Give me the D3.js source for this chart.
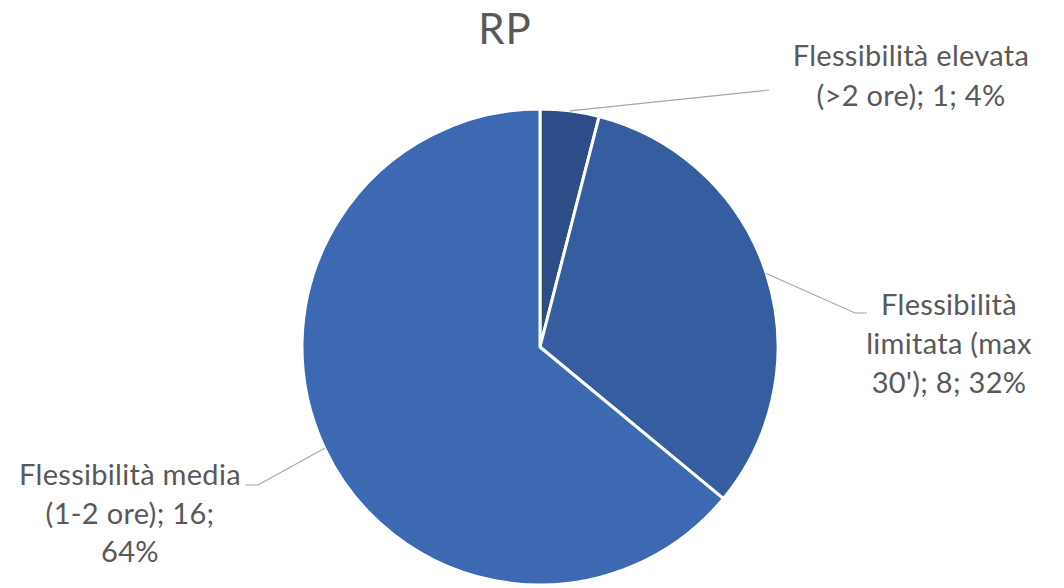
<!DOCTYPE html>
<html><head><meta charset="utf-8">
<script src="https://cdn.jsdelivr.net/npm/d3@7"></script>
<style>body{margin:0;background:#fff;}svg{display:block;}</style>
</head><body>
<script>
const categories = ["Flessibilità elevata (>2 ore)", "Flessibilità limitata (max 30')", "Flessibilità media (1-2 ore)"];
const values = [1, 8, 16];
const percents = ["4%", "32%", "64%"];
const colors = ["#2E4D88", "#365DA0", "#3D69B3"];
const labelLines = [
  ["Flessibilità elevata", "(>2 ore); 1; 4%"],
  ["Flessibilità", "limitata (max", "30'); 8; 32%"],
  ["Flessibilità media", "(1-2 ore); 16;", "64%"]
];
const title = "RP";

const W = 1064, H = 588;
const cx = 540, cy = 347, R = 238;
const svg = d3.select("body").append("svg").attr("width", W).attr("height", H);
const font = "Lato, 'Noto Sans', sans-serif";

svg.append("text").attr("x", 505).attr("y", 44).attr("text-anchor", "middle")
  .attr("font-family", font).attr("font-size", 42).attr("letter-spacing", 1).attr("fill", "#595959").text(title);

const pie = d3.pie().sort(null).value(d => d)(values);
const arc = d3.arc().innerRadius(0).outerRadius(R);
const g = svg.append("g").attr("transform", `translate(${cx},${cy})`);
g.selectAll("path").data(pie).join("path")
  .attr("d", arc).attr("fill", (d, i) => colors[i])
  .attr("stroke", "#fff").attr("stroke-width", 3).attr("stroke-linejoin", "round");

// leader lines & labels
const leaders = [
  {pts: [[769, 90]], lx: 911, ly: 66, ls: 40},
  {pts: [[855, 313], [867, 313]], lx: 949, ly: 315, ls: 39},
  {pts: [[258, 485], [245, 485]], lx: 130, ly: 485, ls: 38.5}
];
pie.forEach((d, i) => {
  const a = (d.startAngle + d.endAngle) / 2;
  const start = [cx + Math.sin(a) * R, cy - Math.cos(a) * R];
  const pts = [start, ...leaders[i].pts];
  svg.append("path").attr("d", d3.line()(pts)).attr("fill", "none")
    .attr("stroke", "#A6A6A6").attr("stroke-width", 1.2);
  const t = svg.append("text").attr("text-anchor", "middle")
    .attr("font-family", font).attr("font-size", 29).attr("letter-spacing", 0.3).attr("fill", "#595959");
  labelLines[i].forEach((s, k) => {
    t.append("tspan").attr("x", leaders[i].lx).attr("y", leaders[i].ly + k * leaders[i].ls).text(s);
  });
});
</script>
</body></html>
